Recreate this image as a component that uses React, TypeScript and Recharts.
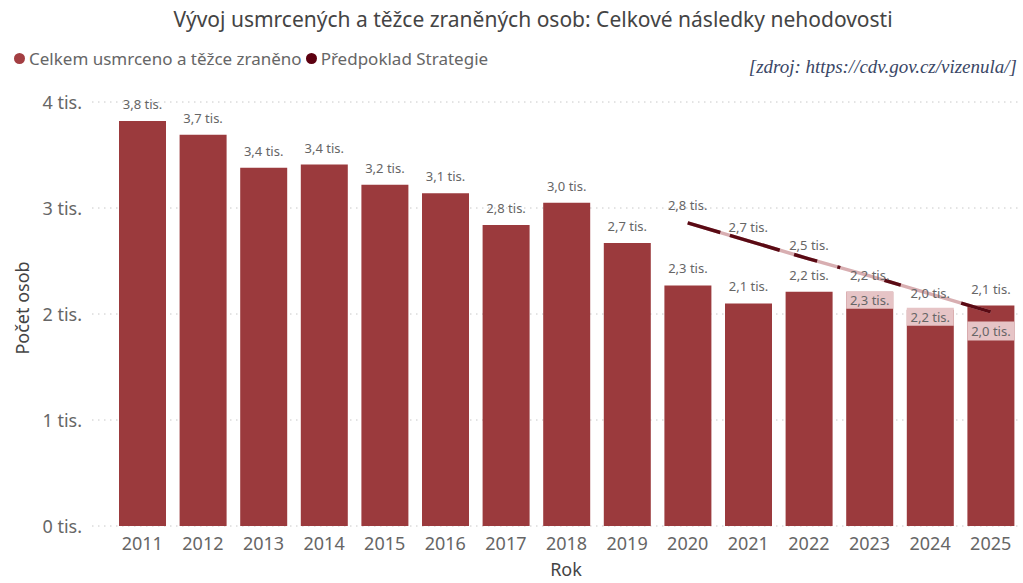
import React from 'react'
import { ComposedChart, Bar, Line, XAxis, YAxis, CartesianGrid, LabelList } from 'recharts';

const YEARS = ['2011', '2012', '2013', '2014', '2015', '2016', '2017', '2018', '2019', '2020', '2021', '2022', '2023', '2024', '2025'];

// Celkem usmrceno a těžce zraněno (osoby)
const CELKEM = [3820, 3690, 3380, 3410, 3220, 3140, 2840, 3050, 2670, 2270, 2100, 2210, 2210, 2040, 2080];

// světlejší pás přes sloupce 2023–2025 (spodní / horní hranice) a jeho popisky
const PAS_DOLNI = [null, null, null, null, null, null, null, null, null, null, null, null, 2050, 1890, 1750];
const PAS_HORNI = [null, null, null, null, null, null, null, null, null, null, null, null, 2210, 2060, 1930];
const PAS_POPISKY = [null, null, null, null, null, null, null, null, null, null, null, null, 2300, 2200, 2000];

// Předpoklad Strategie
const STRATEGIE = [null, null, null, null, null, null, null, null, null, 2860, 2690, 2520, 2360, 2190, 2020];
const STRATEGIE_POPISKY = [null, null, null, null, null, null, null, null, null, 2800, 2700, 2500, null, null, null];

const Y_TICKS = [0, 1000, 2000, 3000, 4000];

const BAR_COLOR = '#9b3a3d';
const BAND_COLOR = '#e6c4c6';
const LINE_COLOR = '#5a0a14';
const FONT = '"Segoe UI", "Noto Sans", sans-serif';

const data = YEARS.map((rok, i) => ({
    rok,
    celkem: CELKEM[i],
    pas: PAS_DOLNI[i] != null ? [PAS_DOLNI[i], PAS_HORNI[i]] : null,
    pasPopisek: PAS_POPISKY[i],
    strategie: STRATEGIE[i],
    strategiePopisek: STRATEGIE_POPISKY[i],
}));

const fmt = (v: number) => (v / 1000).toFixed(1).replace('.', ',') + ' tis.';

const YTick = ({ y, payload }: any) => (
    <text x={82} y={y} textAnchor="end" dominantBaseline="central" fill="#666" fontSize={18} fontFamily={FONT}>
        {payload.value / 1000} tis.
    </text>
);

const XTick = ({ x, payload }: any) => (
    <text x={x} y={543} textAnchor="middle" dominantBaseline="central" fill="#666" fontSize={18} fontFamily={FONT}>
        {payload.value}
    </text>
);

const TopLabel = ({ x, y, width, value }: any) => {
    if (value == null) return null;
    return (
        <text x={x + width / 2} y={y - 17} textAnchor="middle" dominantBaseline="central" fill="#666" fontSize={13} fontFamily={FONT}>
            {fmt(value)}
        </text>
    );
};

const BandLabel = ({ x, y, width, height, value }: any) => {
    if (value == null) return null;
    return (
        <text x={x + width / 2} y={y + height / 2} textAnchor="middle" dominantBaseline="central" fill="#666" fontSize={13} fontFamily={FONT}>
            {fmt(value)}
        </text>
    );
};

const LineLabel = ({ x, y, value, index }: any) => {
    if (value == null) return null;
    const dy = index === 9 ? 18 : 14;
    return (
        <text x={x} y={y - dy} textAnchor="middle" dominantBaseline="central" fill="#666" fontSize={13} fontFamily={FONT}>
            {fmt(value)}
        </text>
    );
};

const LegendItem = ({ color, label }: any) => (
    <span style={{ display: 'inline-flex', alignItems: 'center', marginRight: 4 }}>
        <span style={{ width: 11, height: 11, borderRadius: 6, background: color, display: 'inline-block', marginRight: 4 }} />
        {label}
    </span>
);

const App = () => {
    return (
        <div style={{ position: 'absolute', left: 0, top: 0, width: 1023, height: 583, background: '#fff', fontFamily: FONT }}>
            <div style={{ position: 'absolute', left: 0, width: 1066, top: 5, textAlign: 'center', fontSize: 21, color: '#444', whiteSpace: 'nowrap' }}>
                Vývoj usmrcených a těžce zraněných osob: Celkové následky nehodovosti
            </div>
            <div style={{ position: 'absolute', left: 14, top: 46, fontSize: 17, color: '#666', whiteSpace: 'nowrap' }}>
                <LegendItem color="#a33e42" label="Celkem usmrceno a těžce zraněno" />
                <LegendItem color="#5c0010" label="Předpoklad Strategie" />
            </div>
            <div style={{ position: 'absolute', right: 6, top: 56, fontSize: 19, fontStyle: 'italic', color: '#3a4766', fontFamily: '"Liberation Serif", "DejaVu Serif", serif', whiteSpace: 'nowrap' }}>
                [zdroj: https://cdv.gov.cz/vizenula/]
            </div>
            <div style={{ position: 'absolute', left: 22, top: 308, transform: 'translate(-50%, -50%) rotate(-90deg)', fontSize: 18, color: '#444', whiteSpace: 'nowrap' }}>
                Počet osob
            </div>
            <div style={{ position: 'absolute', left: 566, top: 569, transform: 'translate(-50%, -50%)', fontSize: 18, color: '#444' }}>
                Rok
            </div>
            <ComposedChart width={1023} height={583} data={data} margin={{ top: 102, right: 1, bottom: 27, left: 0 }}>
                <CartesianGrid vertical={false} stroke="#c8c8c8" strokeDasharray="1.5 4.5" />
                <XAxis xAxisId="a" dataKey="rok" height={30} axisLine={false} tickLine={false} tick={<XTick />} padding={{ left: 20, right: 1 }} />
                <XAxis xAxisId="b" dataKey="rok" height={0} hide padding={{ left: 20, right: 1 }} />
                <YAxis width={92} domain={[0, 4000]} ticks={Y_TICKS} axisLine={false} tickLine={false} tick={<YTick />} />
                <Bar xAxisId="a" dataKey="celkem" fill={BAR_COLOR} barSize={47} isAnimationActive={false}>
                    <LabelList dataKey="celkem" content={<TopLabel />} />
                </Bar>
                <Bar xAxisId="b" dataKey="pas" fill={BAND_COLOR} barSize={47} isAnimationActive={false}>
                    <LabelList dataKey="pasPopisek" content={<BandLabel />} />
                </Bar>
                <Line xAxisId="a" dataKey="strategie" stroke="#d8aeb1" strokeWidth={3.5} dot={false} isAnimationActive={false} />
                <Line xAxisId="a" dataKey="strategie" stroke={LINE_COLOR} strokeWidth={3.5} dot={false} isAnimationActive={false}
                    strokeDasharray="34 10 52 15 24 21 3 46 17 63 40">
                    <LabelList dataKey="strategiePopisek" content={<LineLabel />} />
                </Line>
            </ComposedChart>
        </div>
    );
}

export default App;
